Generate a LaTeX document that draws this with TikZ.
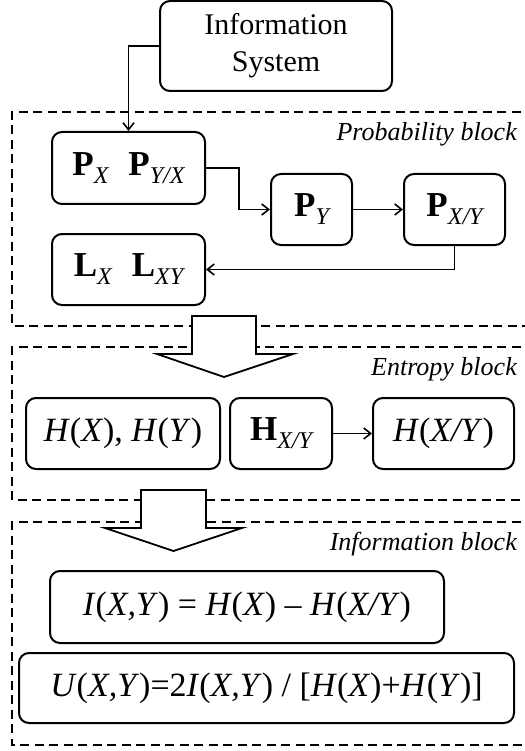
\documentclass[tikz,border=0pt]{standalone}
\usepackage{fontspec}
\setmainfont{Liberation Serif}
\usetikzlibrary{arrows.meta}
\newcommand{\mysub}[1]{\raisebox{-8pt}{\fontsize{24}{24}\selectfont\itshape #1}}
\newcommand{\mi}[1]{\textit{#1}}
\begin{document}
\begin{tikzpicture}[x=1pt,y=-1pt,
  box/.style={draw,line width=2pt,rounded corners=10pt,inner sep=0pt,align=center,
    font=\fontsize{34}{34}\selectfont},
  conn/.style={line width=1.6pt,-{Straight Barb[length=7pt,width=11pt,line width=1.6pt]}},
  blockline/.style={line width=2.3pt,dash pattern=on 9pt off 5.5pt},
  blockarrow/.style={draw,fill=white,line width=1.8pt},
  blocklabel/.style={anchor=east,inner sep=0pt,font=\fontsize{26}{26}\selectfont\itshape}]
\useasboundingbox (0,0) rectangle (524,751);
% dashed blocks
\draw[blockline] (535,112) -- (12,112) -- (12,326) -- (535,326);
\draw[blockline] (535,347) -- (12,347) -- (12,500) -- (535,500);
\draw[blockline] (535,522) -- (12,522) -- (12,745) -- (535,745);
% block arrows
\draw[blockarrow] (192,316) -- (256,316) -- (256,354) -- (293,354) -- (224,377) -- (157,354) -- (192,354) -- cycle;
\draw[blockarrow] (141,490) -- (206,490) -- (206,528) -- (242,528) -- (173.5,551) -- (105,528) -- (141,528) -- cycle;
% labels
\node[blocklabel] (lp) at (517,134) {Probability block};
\node[blocklabel] (le) at (517,369) {Entropy block};
\node[blocklabel] (li) at (517,544) {Information block};
% nodes
\node[box,minimum width=232pt,minimum height=90pt,font=\fontsize{30}{37}\selectfont] (is) at (276,46) {Information\\System};
\node[box,minimum width=153pt,minimum height=72pt,font=\fontsize{35}{35}\selectfont] (px) at (128.5,168) {\textbf{P}\mysub{X}\hspace{20pt}\textbf{P}\mysub{Y/X}};
\node[box,minimum width=81pt,minimum height=71pt,font=\fontsize{35}{35}\selectfont] (py) at (311.5,209.5) {\textbf{P}\mysub{Y}};
\node[box,minimum width=101pt,minimum height=71pt,font=\fontsize{35}{35}\selectfont] (pxy) at (454.5,209.5) {\textbf{P}\mysub{X/Y}};
\node[box,minimum width=153pt,minimum height=71pt,font=\fontsize{35}{35}\selectfont] (lx) at (128.5,269.5) {\textbf{L}\mysub{X}\hspace{20pt}\textbf{L}\mysub{XY}};
\node[box,minimum width=194pt,minimum height=71pt] (hxy1) at (123,433.5) {\mi{H}(\mi{X}), \mi{H}(\mi{Y})};
\node[box,minimum width=102pt,minimum height=71pt,font=\fontsize{35}{35}\selectfont] (hb) at (281,433.5) {\textbf{H}\mysub{X/Y}};
\node[box,minimum width=141pt,minimum height=71pt] (hxy2) at (443.5,433.5) {\mi{H}(\mi{X/Y})};
\node[box,minimum width=394pt,minimum height=72pt] (ib) at (247,607) {\mi{I}(\mi{X,Y}) = \mi{H}(\mi{X}) – \mi{H}(\mi{X/Y})};
\node[box,minimum width=495pt,minimum height=70pt] (ub) at (266.5,688) {\mi{U}(\mi{X,Y})=2\mi{I}(\mi{X,Y}) / [\mi{H}(\mi{X})+\mi{H}(\mi{Y})]};
% connectors
\draw[conn] (is.west) -| (px.north);
\draw[conn] (px.east) -- ++(33,0) |- (py.west);
\draw[conn] (py.east) -- (pxy.west);
\draw[conn] (pxy.south) |- (lx.east);
\draw[conn] (hb.east) -- (hxy2.west);
\end{tikzpicture}
\end{document}
